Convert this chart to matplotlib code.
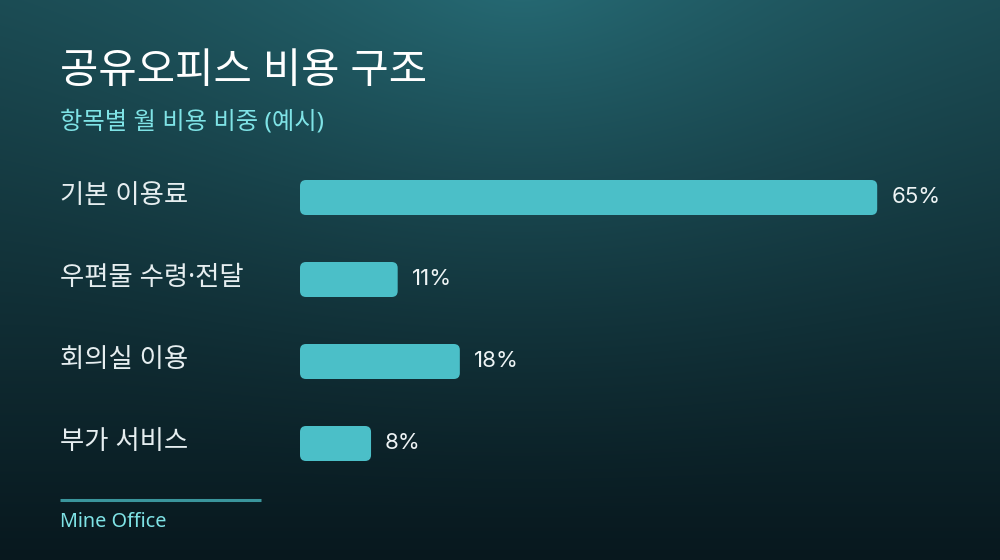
import numpy as np
import matplotlib
matplotlib.use("Agg")
import matplotlib.pyplot as plt
from matplotlib.patches import FancyBboxPatch
from matplotlib.transforms import blended_transform_factory
from matplotlib.colors import to_rgb

# ---- data ----
title = "공유오피스 비용 구조"
subtitle = "항목별 월 비용 비중 (예시)"
categories = ["기본 이용료", "우편물 수령·전달", "회의실 이용", "부가 서비스"]
values = [65, 11, 18, 8]
footer = "Mine Office"

FAM = ["Noto Sans", "Noto Sans CJK KR", "DejaVu Sans"]
plt.rcParams["font.family"] = FAM

W, H = 1000, 560
fig = plt.figure(figsize=(W / 100, H / 100), dpi=100)

# ---- background gradient ----
bg_ax = fig.add_axes([0, 0, 1, 1], zorder=-10)
yy, xx = np.mgrid[0:H, 0:W]
top = np.array(to_rgb("#1b4a52"))
bot = np.array(to_rgb("#08181e"))
t = (yy / H)[..., None]
img = top * (1 - t) + bot * t
d = np.sqrt(((xx - 520) / 1.15) ** 2 + (yy + 30) ** 2)
glow = np.clip(1 - d / 560, 0, 1) ** 1.6
img = img + glow[..., None] * np.array(to_rgb("#0b2022"))
img = np.clip(img, 0, 1)
bg_ax.imshow(img, extent=[0, W, H, 0], aspect="auto", interpolation="bilinear")
bg_ax.set_xlim(0, W)
bg_ax.set_ylim(H, 0)
bg_ax.axis("off")

# ---- bar axes ----
px_per_unit = 8.88
ax_left_px, ax_right_px = 300, 1000
row_px = 82
first_center = 197.5
top_px = first_center - row_px / 2
bot_px = first_center + row_px * (len(categories) - 0.5)
ax = fig.add_axes([ax_left_px / W, 1 - bot_px / H,
                   (ax_right_px - ax_left_px) / W, (bot_px - top_px) / H])
ax.set_xlim(0, (ax_right_px - ax_left_px) / px_per_unit)
ax.set_ylim(len(categories) - 0.5, -0.5)
ax.axis("off")
ax.patch.set_alpha(0)

bar_h = 35 / row_px
radius_x = 6 / px_per_unit
aspect = px_per_unit / row_px
bar_color = "#4bbfc8"
for i, v in enumerate(values):
    p = FancyBboxPatch((0, i - bar_h / 2), v, bar_h,
                       boxstyle=f"round,pad=0,rounding_size={radius_x}",
                       mutation_aspect=aspect, facecolor=bar_color,
                       edgecolor="none")
    ax.add_patch(p)
    ax.text(v + 14 / px_per_unit, i - 0.01, f"{v}%", va="center", ha="left",
            fontsize=16, color="#eef4f5", family=["Inter", "DejaVu Sans"])

trans = blended_transform_factory(fig.transFigure, ax.transData)
for i, c in enumerate(categories):
    ax.text(60 / W, i - 0.02, c, transform=trans, va="center", ha="left",
            fontsize=19, color="#e6eef0")

# ---- titles ----
fig.text(60 / W, 1 - 72 / H, title, fontsize=30, color="white",
         va="center", ha="left", fontweight="medium")
fig.text(60 / W, 1 - 123 / H, subtitle, fontsize=17.5, color="#7fe3e6",
         va="center", ha="left")

# ---- footer ----
fig.add_artist(plt.Line2D([60 / W, 261 / W], [1 - 500 / H, 1 - 500 / H],
                          color="#3a959c", linewidth=2.2, solid_capstyle="butt"))
fig.text(60 / W, 1 - 522 / H, footer, fontsize=14.3, color="#7fe3e6",
         va="center", ha="left")

fig.savefig("out.png", dpi=100)
